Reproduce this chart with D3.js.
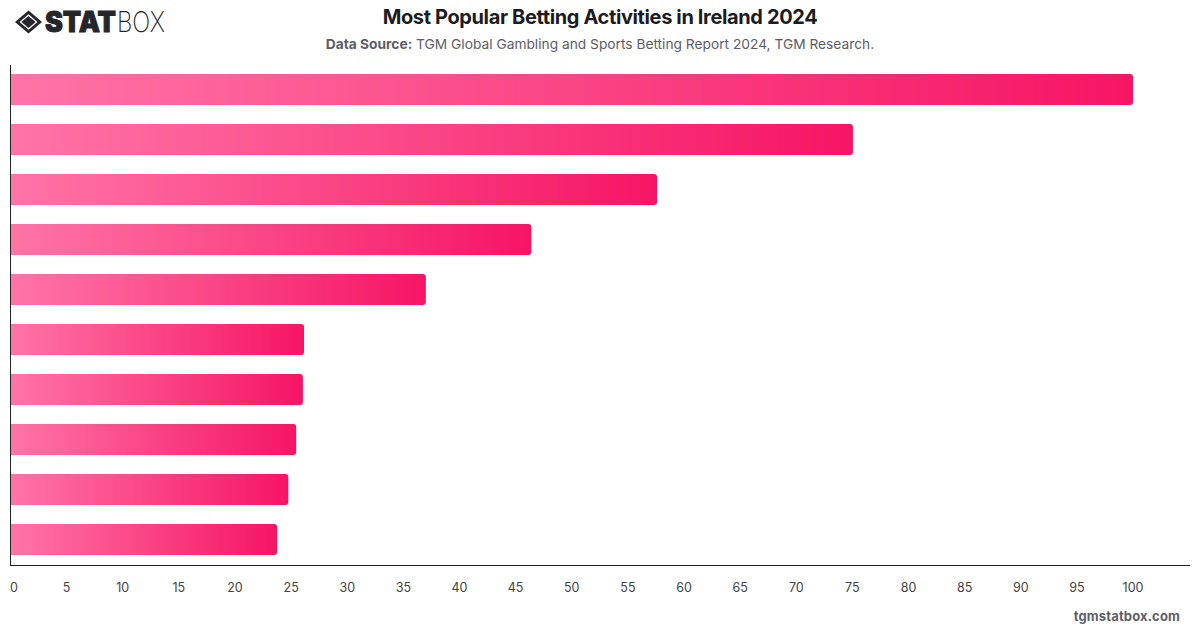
<!DOCTYPE html>
<html>
<head>
<meta charset="utf-8">
<script src="https://cdn.jsdelivr.net/npm/d3@7/dist/d3.min.js"></script>
<style>
html,body{margin:0;padding:0;background:#fff;}
svg{display:block;font-family:Inter,"Noto Sans",sans-serif;}
</style>
</head>
<body>
<svg id="chart" width="1200" height="628"></svg>
<script>
// Ranked betting activities; the chart carries no category names, only rank order.
const ranks = [1, 2, 3, 4, 5, 6, 7, 8, 9, 10];
const shares = [100, 75.05, 57.6, 46.4, 37, 26.15, 26.05, 25.45, 24.75, 23.75];
const tickValues = d3.range(0, 101, 5);

const title = "Most Popular Betting Activities in Ireland 2024";
const sourceLabel = "Data Source:";
const sourceText = " TGM Global Gambling and Sports Betting Report 2024, TGM Research.";
const footer = "tgmstatbox.com";

const svg = d3.select("#chart");
const x = d3.scaleLinear().domain([0, 100]).range([10.5, 1133]);
const y = d3.scaleBand().domain(ranks).range([64.5, 564.5]).paddingInner(0.38).paddingOuter(0.19);

// One horizontal gradient stretched over each bar's own width.
const grad = svg.append("defs").append("linearGradient")
  .attr("id", "barFill").attr("x1", 0).attr("x2", 1).attr("y1", 0).attr("y2", 0);
grad.append("stop").attr("offset", "0%").attr("stop-color", "#ff74a6");
grad.append("stop").attr("offset", "100%").attr("stop-color", "#f61564");

// Bars: flat against the axis, small rounded corners at the far end.
const r = 3;
svg.append("g").selectAll("path").data(shares).join("path")
  .attr("fill", "url(#barFill)")
  .attr("d", (d, i) => {
    const x0 = x(0), x1 = x(d), y0 = y(ranks[i]), h = y.bandwidth();
    return `M${x0},${y0}H${x1 - r}Q${x1},${y0} ${x1},${y0 + r}V${y0 + h - r}Q${x1},${y0 + h} ${x1 - r},${y0 + h}H${x0}Z`;
  });

// Axes
svg.append("line").attr("x1", 10.5).attr("x2", 10.5).attr("y1", 65).attr("y2", 565.5)
  .attr("stroke", "#222").attr("stroke-width", 1);
svg.append("line").attr("x1", 10).attr("x2", 1190).attr("y1", 565.5).attr("y2", 565.5)
  .attr("stroke", "#222").attr("stroke-width", 1);

const xAxis = d3.axisBottom(x).tickValues(tickValues).tickSize(0).tickPadding(0);
const axisG = svg.append("g").attr("transform", "translate(-0.5,588)").call(xAxis);
axisG.select(".domain").remove();
axisG.selectAll("text")
  .attr("y", 0).attr("dy", "0.35em")
  .attr("dx", d => d === 0 ? 3.5 : 0)
  .attr("font-family", "Inter,sans-serif")
  .attr("font-size", 12.5).attr("fill", "#444");

// Heading block
svg.append("text").attr("x", 600).attr("y", 24).attr("text-anchor", "middle")
  .attr("font-size", 20).attr("font-weight", 700).attr("letter-spacing", -0.37).attr("fill", "#1c1c20").text(title);
const sub = svg.append("text").attr("x", 600).attr("y", 49).attr("text-anchor", "middle")
  .attr("font-size", 13.75).attr("fill", "#5d5d68");
sub.append("tspan").attr("font-weight", 700).text(sourceLabel);
sub.append("tspan").attr("xml:space", "preserve").text(sourceText);

svg.append("text").attr("x", 1180).attr("y", 621).attr("text-anchor", "end")
  .attr("font-size", 13).attr("font-weight", 700).attr("letter-spacing", 0.13).attr("fill", "#5f5f66").text(footer);

// Wordmark: diamond emblem followed by heavy and light lettering
const logo = svg.append("g");
logo.append("path").attr("fill", "#25262b").attr("fill-rule", "evenodd")
  .attr("d", "M28.5,10.5 L42,22 L28.5,33.5 L15,22 Z M28.5,14.2 L19.5,22 L28.5,29.8 L37.5,22 Z");
logo.append("path").attr("fill", "#25262b").attr("d", "M28.5,16 L35.6,22 L28.5,28 L21.4,22 Z");
logo.append("text").attr("x", 45).attr("y", 32).attr("fill", "#25262b").attr("font-size", 28)
  .attr("stroke", "#25262b").attr("stroke-width", 0.9)
  .attr("font-weight", 900).attr("textLength", 71).attr("lengthAdjust", "spacingAndGlyphs").text("STAT");
logo.append("text").attr("x", 117).attr("y", 32).attr("fill", "#25262b").attr("font-size", 28)
  .attr("font-weight", 200).attr("textLength", 48).attr("lengthAdjust", "spacingAndGlyphs").text("BOX");
</script>
</body>
</html>
